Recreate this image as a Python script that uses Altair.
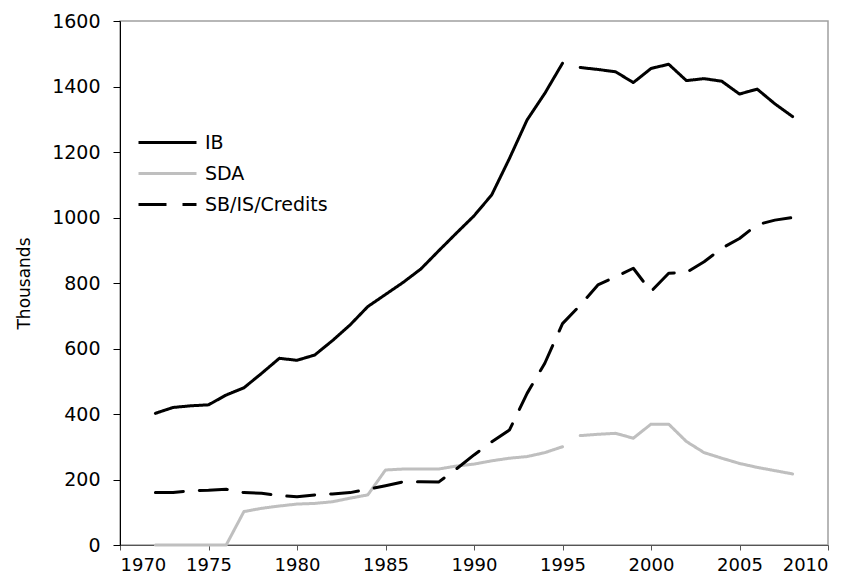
import altair as alt
import pandas as pd

years = list(range(1972, 2009))
ib = [402, 420, 425, 428, 458, 480, 524, 570, 564, 580, 624, 672, 728, 765, 802,
      843, 898, 952, 1005, 1069, 1180, 1298, 1379, 1471, 1458, 1452, 1445, 1412,
      1455, 1468, 1418, 1424, 1416, 1377, 1392, 1347, 1308]
sda = [0, 0, 0, 0, 0, 102, 112, 119, 125, 127, 132, 143, 153, 229, 232, 232, 232,
       241, 247, 257, 265, 270, 282, 300, 334, 338, 341, 326, 369, 369, 316, 282,
       265, 249, 237, 227, 217]
sb = [160, 160, 166, 167, 170, 160, 158, 151, 147, 153, 156, 160, 170, 181, 193,
      193, 192, 232, 275, 315, 351, 463, 555, 676, 732, 794, 819, 845, 774, 830,
      832, 865, 906, 936, 978, 992, 1000]

series = ["IB", "SDA", "SB/IS/Credits"]
colors = ["#000000", "#bfbfbf", "#000000"]
dashes = [[1, 0], [1, 0], [28, 16]]
x_ticks = list(range(1970, 2011, 5))
y_ticks = list(range(0, 1601, 200))

rows = []
for name, vals in zip(series, [ib, sda, sb]):
    for yr, v in zip(years, vals):
        seg = 1 if (name != "SB/IS/Credits" and yr > 1995) else 0
        rows.append({"year": yr, "value": v, "series": name, "seg": seg})
df = pd.DataFrame(rows)

FONT = "DejaVu Sans"

legend_kw = dict(
    title=None,
    orient="none",
    legendX=17,
    legendY=107,
    symbolType="stroke",
    symbolSize=3364,
    symbolStrokeWidth=3,
    labelFont=FONT,
    labelFontSize=19,
    labelColor="#000000",
    labelOffset=7,
    clipHeight=29,
    rowPadding=2,
    padding=0,
)

chart = (
    alt.Chart(df)
    .mark_line(strokeWidth=3, strokeCap="round", strokeJoin="round")
    .encode(
        x=alt.X(
            "year:Q",
            scale=alt.Scale(domain=[1970, 2010], nice=False, zero=False),
            axis=alt.Axis(values=x_ticks, format="d", title=None, tickSize=5,
                          labelPadding=20, labelBaseline="alphabetic",
                          labelFontSize=18,
                          domainColor="#555555", tickColor="#555555"),
        ),
        y=alt.Y(
            "value:Q",
            scale=alt.Scale(domain=[0, 1600], nice=False),
            axis=alt.Axis(values=y_ticks, format="d", title="Thousands", tickSize=7,
                          labelPadding=13, titleFont=FONT, titleFontSize=17,
                          titleFontWeight="normal", titleColor="#000000",
                          titleX=-96, titleY=262, titleAngle=270,
                          titleAlign="center", titleBaseline="middle"),
        ),
        color=alt.Color("series:N", scale=alt.Scale(domain=series, range=colors),
                        legend=alt.Legend(**legend_kw)),
        strokeDash=alt.StrokeDash("series:N", scale=alt.Scale(domain=series, range=dashes),
                                  legend=alt.Legend(**legend_kw)),
        detail="seg:N",
    )
    .properties(
        width=708,
        height=524,
        autosize=alt.AutoSizeParams(type="none"),
        padding={"left": 112, "top": 13, "right": 18, "bottom": 30},
    )
    .configure_view(stroke="#a0a0a0", strokeWidth=1.5)
    .configure_axis(
        grid=False,
        labelFont=FONT,
        labelFontSize=19,
        labelColor="#000000",
        domainColor="#000000",
        tickColor="#000000",
    )
)

chart.save("out.html", embed_options={"renderer": "svg", "actions": False})
